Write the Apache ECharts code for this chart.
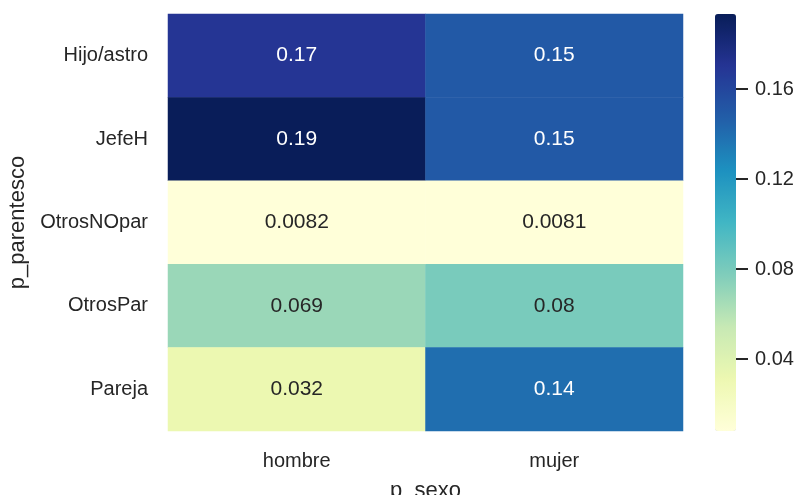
<!DOCTYPE html>
<html><head><meta charset="utf-8">
<script src="https://cdn.jsdelivr.net/npm/echarts@6/dist/echarts.min.js"></script>
<style>html,body{margin:0;padding:0;background:#fff}#c{width:797px;height:495px}</style>
</head><body><div id="c"></div>
<script>
const sexo = ['hombre', 'mujer'];
const parentesco = ['Hijo/astro', 'JefeH', 'OtrosNOpar', 'OtrosPar', 'Pareja'];
const hombre = [0.17, 0.193, 0.0082, 0.069, 0.032];
const mujer = [0.15, 0.15, 0.0081, 0.08, 0.14];
const cbarTicks = [0.04, 0.08, 0.12, 0.16];
const vMin = 0.0081, vMax = 0.1935;

const cols = [hombre, mujer];
const data = [];
cols.forEach((arr, xi) => arr.forEach((v, yi) => {
  data.push({value: [xi, yi, v], label: {color: v > 0.1 ? '#ffffff' : '#262626'}});
}));
const font = 'Liberation Sans, Arial, sans-serif';
const chart = echarts.init(document.getElementById('c'));
chart.setOption({
  animation: false,
  grid: [
    {left: 168, right: 114, top: 14, bottom: 64, outerBoundsMode: 'none', containLabel: false},
    {left: 715, width: 21, top: 14, bottom: 64, outerBoundsMode: 'none', containLabel: false}
  ],
  xAxis: [
    {type: 'category', data: sexo, gridIndex: 0, axisLine: {show: false}, axisTick: {show: false},
     axisLabel: {color: '#262626', fontSize: 20, fontFamily: font, margin: 20},
     name: 'p_sexo', nameLocation: 'middle', nameGap: 49,
     nameTextStyle: {color: '#262626', fontSize: 22, fontFamily: font}, splitLine: {show: false}},
    {type: 'value', gridIndex: 1, show: false, min: 0, max: 1}
  ],
  yAxis: [
    {type: 'category', data: parentesco, inverse: true, gridIndex: 0, axisLine: {show: false}, axisTick: {show: false},
     axisLabel: {color: '#262626', fontSize: 20, fontFamily: font, margin: 20},
     name: 'p_parentesco', nameLocation: 'middle', nameGap: 138,
     nameTextStyle: {color: '#262626', fontSize: 22, fontFamily: font}, splitLine: {show: false}},
    {type: 'value', gridIndex: 1, position: 'right', min: vMin, max: vMax,
     axisLine: {show: false, onZero: false}, splitLine: {show: false},
     axisTick: {show: false},
     axisLabel: {show: true, customValues: cbarTicks, color: '#262626', fontSize: 20, fontFamily: font, margin: 19,
       formatter: v => v.toFixed(2)}}
  ],
  visualMap: {
    type: 'continuous', min: vMin, max: vMax, calculable: false, seriesIndex: 0,
    left: 715, top: 14, itemWidth: 21, itemHeight: 417, padding: 0, text: null, showLabel: false,
    inRange: {color: ['#ffffd9', '#edf8b1', '#c7e9b4', '#7fcdbb', '#41b6c4', '#1d91c0', '#225ea8', '#253494', '#081d58']}
  },
  series: [{
    type: 'heatmap', xAxisIndex: 0, yAxisIndex: 0, data: data,
    label: {show: true, fontSize: 21, fontFamily: font,
      formatter: p => Number(p.value[2].toPrecision(2)).toString()},
    itemStyle: {borderWidth: 0}, emphasis: {disabled: true}
  }]
});
// colorbar tick marks placed through the colorbar axis scale
const tickEls = cbarTicks.map(t => {
  const y = Math.round(chart.convertToPixel({yAxisIndex: 1}, t));
  const x0 = chart.convertToPixel({xAxisIndex: 1}, 1);
  return {type: 'line', shape: {x1: x0, y1: y, x2: x0 + 12, y2: y},
          style: {stroke: '#262626', lineWidth: 2}, silent: true, z: 10};
});
chart.setOption({graphic: tickEls});
</script></body></html>
